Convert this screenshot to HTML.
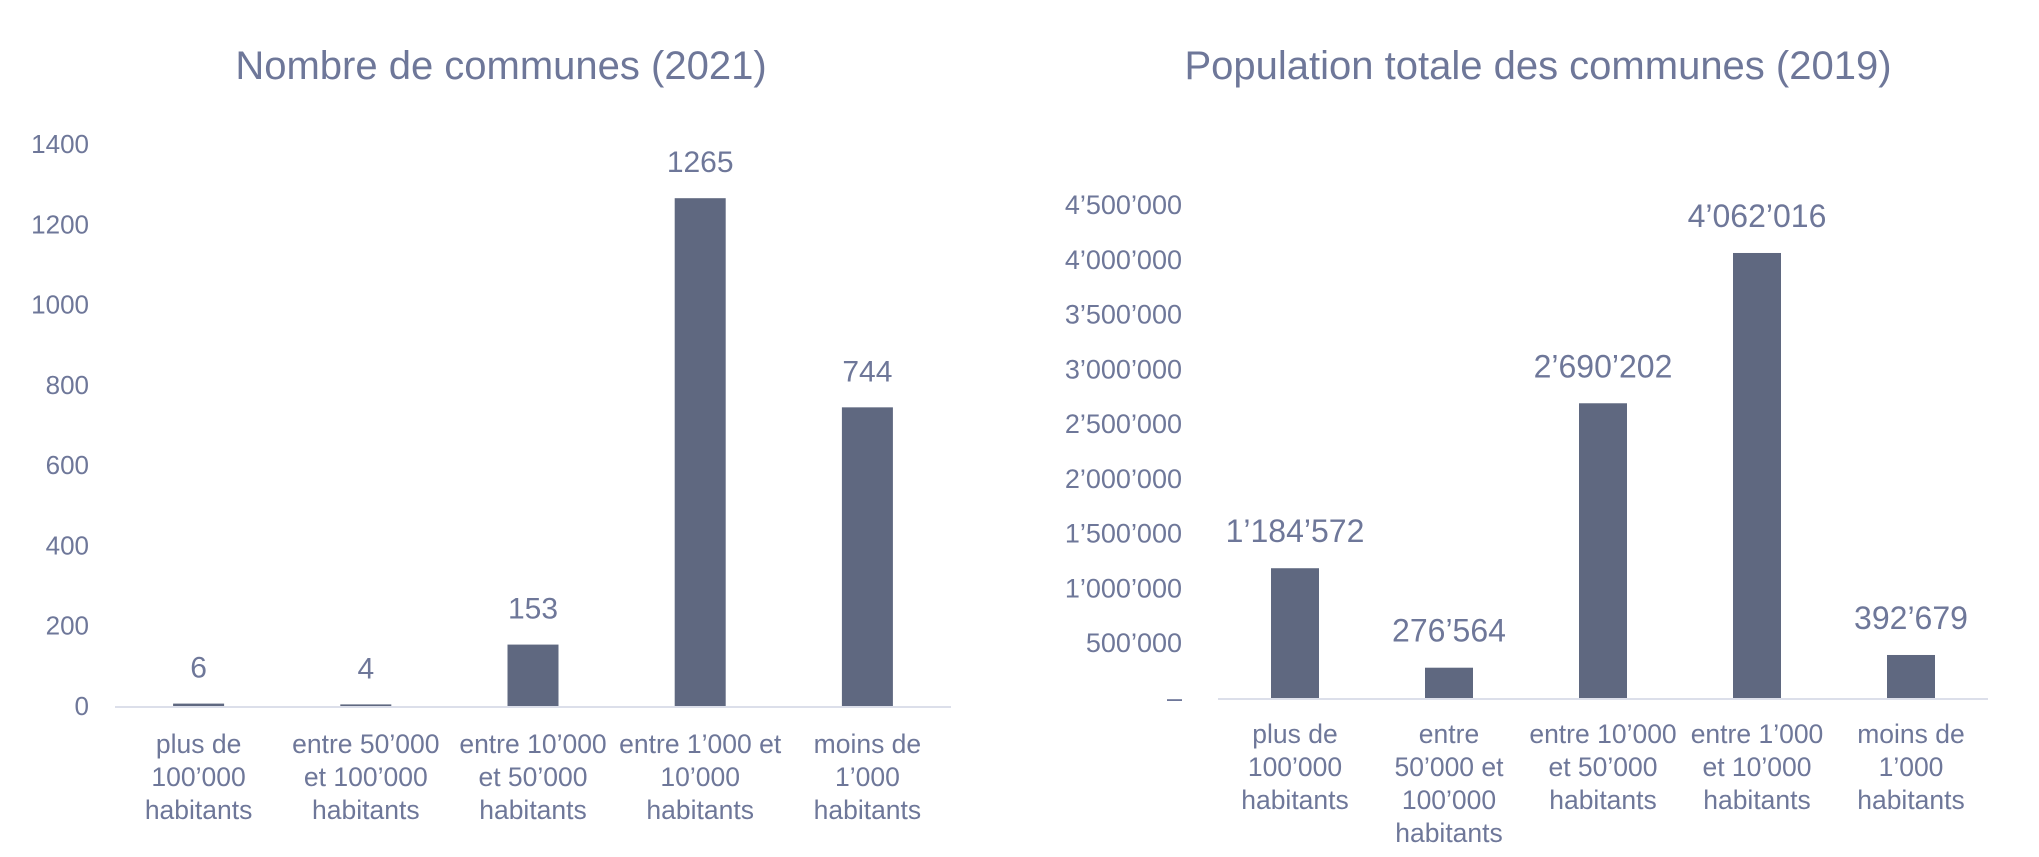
<!DOCTYPE html>
<html><head><meta charset="utf-8"><style>
html,body{margin:0;padding:0;background:#fff;}
svg{display:block;font-family:"Liberation Sans",sans-serif;}
.t{fill:#6e7799;}
</style></head><body>
<svg id="c" width="2039" height="857" viewBox="0 0 2039 857">
<text class="t" x="501" y="79" font-size="40" text-anchor="middle">Nombre de communes (2021)</text>
<text class="t" x="1538" y="79" font-size="40" text-anchor="middle">Population totale des communes (2019)</text>
</svg>
<script>
const categoriesLeft=[["plus de","100’000","habitants"],["entre 50’000","et 100’000","habitants"],["entre 10’000","et 50’000","habitants"],["entre 1’000 et","10’000","habitants"],["moins de","1’000","habitants"]];
const valuesLeft=[6,4,153,1265,744];
const labelsLeft=["6","4","153","1265","744"];
const ticksLeft=[0,200,400,600,800,1000,1200,1400];
const tickLabelsLeft=["0","200","400","600","800","1000","1200","1400"];
const categoriesRight=[["plus de","100’000","habitants"],["entre","50’000 et","100’000","habitants"],["entre 10’000","et 50’000","habitants"],["entre 1’000","et 10’000","habitants"],["moins de","1’000","habitants"]];
const valuesRight=[1184572,276564,2690202,4062016,392679];
const labelsRight=["1’184’572","276’564","2’690’202","4’062’016","392’679"];
const ticksRight=[0,500000,1000000,1500000,2000000,2500000,3000000,3500000,4000000,4500000];
const tickLabelsRight=["–","500’000","1’000’000","1’500’000","2’000’000","2’500’000","3’000’000","3’500’000","4’000’000","4’500’000"];
const svg=document.getElementById('c');
const NS='http://www.w3.org/2000/svg';
function mk(tag,attrs,txt){const e=document.createElementNS(NS,tag);for(const k in attrs)e.setAttribute(k,attrs[k]);if(txt!==undefined)e.textContent=txt;svg.appendChild(e);return e;}
function chart(p,cats,vals,labs,ticks,tlabs,prefix){
  const y=v=>p.base-(v-0)/(p.max)*(p.base-p.top);
  const bw=(p.x1-p.x0)/cats.length;
  const x=i=>p.x0+bw*(i+0.5);
  ticks.forEach((t,i)=>{
    const e=mk('text',{class:'t',x:p.tickX,y:y(t)+9,'font-size':p.tickFs,'text-anchor':'end'},tlabs[i]);
    
    
  });
  const ax=mk('line',{x1:p.x0,x2:p.x1,y1:p.base+1,y2:p.base+1,stroke:'#dcdfea','stroke-width':2});
  
  
  vals.forEach((v,i)=>{
    const h=Math.max(p.base-y(v),0);
    const r=mk('rect',{x:x(i)-p.w/2,y:p.base-h,width:p.w,height:h,fill:'#5f6880'});
    
    
    const l=mk('text',{class:'t',x:x(i),y:p.base-h-26,'font-size':p.valFs,'text-anchor':'middle'},labs[i]);
    
    
    cats[i].forEach((line,j)=>{
      const c=mk('text',{class:'t',x:x(i),y:p.catY+j*33,'font-size':26.5,'text-anchor':'middle'},line);
      
      
    });
  });
}
chart({x0:115,x1:951,base:706,top:144,max:1400,w:51,tickX:89,catY:753,tickFs:26,valFs:30},categoriesLeft,valuesLeft,labelsLeft,ticksLeft,tickLabelsLeft,'left');
chart({x0:1218,x1:1988,base:698,top:205,max:4500000,w:48,tickX:1182,catY:743,tickFs:27,valFs:32},categoriesRight,valuesRight,labelsRight,ticksRight,tickLabelsRight,'right');
</script>
</body></html>
